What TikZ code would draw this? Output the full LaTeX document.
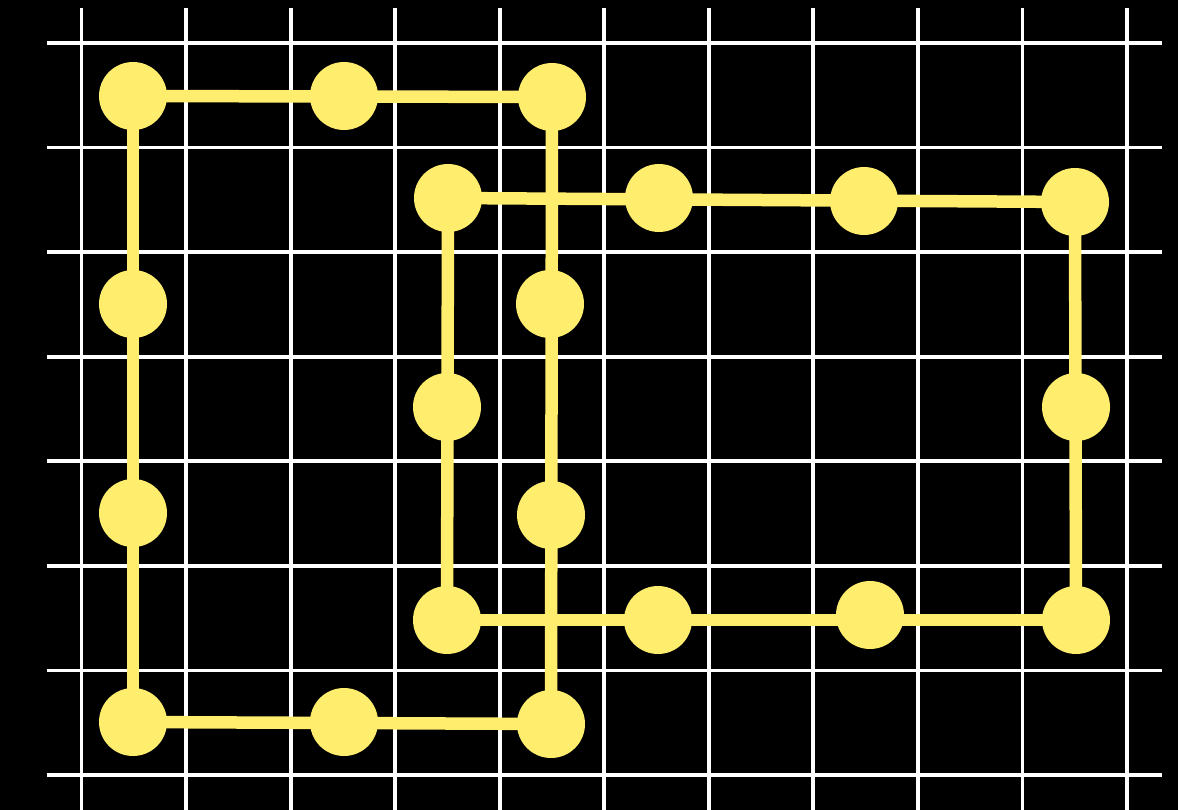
\documentclass[tikz,border=0pt]{standalone}
\definecolor{dotyellow}{HTML}{FFEE6E}
\pgfdeclarelayer{bg}
\pgfdeclarelayer{edges}
\pgfsetlayers{bg,edges,main}
\begin{document}
\begin{tikzpicture}[x=1pt,y=-1pt,
  dot/.style={circle,fill=dotyellow,draw=none,minimum size=68pt,inner sep=0pt},
  link/.style={draw=dotyellow,line width=12.5pt},
  gridline/.style={draw=white,line width=3.8pt}]
\useasboundingbox (0,0) rectangle (1178,810);
\begin{pgfonlayer}{bg}
\fill[black] (0,0) rectangle (1178,810);
\foreach \i in {0,...,10} {
  \draw[gridline] ({81.5+104.55*\i},8) -- ({81.5+104.55*\i},812);
}
\foreach \j in {0,...,7} {
  \draw[gridline] (47,{43+104.57*\j}) -- (1162,{43+104.57*\j});
}
\end{pgfonlayer}
% left rectangle
\node[dot] (L1) at (133,96) {};
\node[dot] (L2) at (344,96) {};
\node[dot] (L3) at (552,97) {};
\node[dot] (L4) at (133,304) {};
\node[dot] (L5) at (550,304) {};
\node[dot] (L6) at (133,513) {};
\node[dot] (L7) at (551,515) {};
\node[dot] (L8) at (133,722) {};
\node[dot] (L9) at (344,722) {};
\node[dot] (L10) at (551,724) {};
% right rectangle
\node[dot] (R1) at (448,198) {};
\node[dot] (R2) at (659,198) {};
\node[dot] (R3) at (864,201) {};
\node[dot] (R4) at (1075,202) {};
\node[dot] (R5) at (447,407) {};
\node[dot] (R6) at (1076,407) {};
\node[dot] (R7) at (447,620) {};
\node[dot] (R8) at (658,620) {};
\node[dot] (R9) at (870,615) {};
\node[dot] (R10) at (1076,620) {};
\begin{pgfonlayer}{edges}
\draw[link] (L1.center) -- (L3.center);
\draw[link] (L1.center) -- (L8.center);
\draw[link] (L3.center) -- (L10.center);
\draw[link] (L8.center) -- (L10.center);
\draw[link] (R1.center) -- (R4.center);
\draw[link] (R1.center) -- (R7.center);
\draw[link] (R4.center) -- (R10.center);
\draw[link] (R7.center) -- (R10.center);
\end{pgfonlayer}
\end{tikzpicture}
\end{document}
